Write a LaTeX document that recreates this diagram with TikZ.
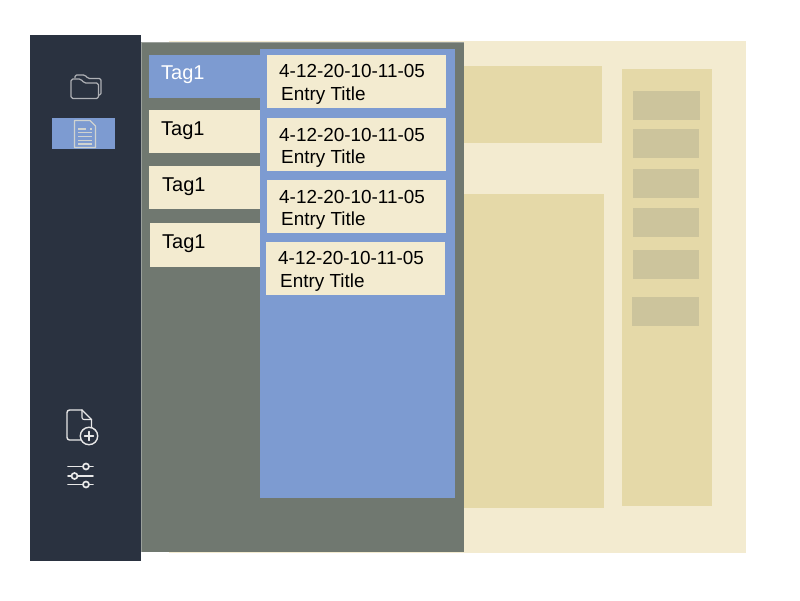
\documentclass[tikz,border=0pt]{standalone}
\usepackage{fontspec}
\setmainfont{Liberation Sans}
\definecolor{navy}{HTML}{2A3240}
\definecolor{bluep}{HTML}{7D9BD1}
\definecolor{cream}{HTML}{F3EBD0}
\definecolor{tan}{HTML}{E5D9A8}
\definecolor{greyb}{HTML}{CCC49C}
\definecolor{slate}{HTML}{707870}
\definecolor{iconw}{HTML}{E8E8E8}
\newcommand{\bx}[5]{\fill[#1] (#2,#3) rectangle (#4,#5);}
\tikzset{
  x=1pt,y=-1pt,
  tagtxt/.style={font=\fontsize{20}{22}\selectfont,anchor=base west,inner sep=0pt,text=black},
  datetxt/.style={font=\fontsize{18.9}{20}\selectfont,anchor=base west,inner sep=0pt,text=black},
  icon/.style={draw=iconw,line width=1.4pt,line join=round,line cap=round},
}
\begin{document}
\begin{tikzpicture}
\useasboundingbox (0,0) rectangle (800,600);
\fill[white] (0,0) rectangle (800,600);
% page background
\bx{cream}{169}{41}{746}{553}
\bx{tan}{460}{66}{602}{143}
\bx{tan}{460}{194}{604}{508}
\bx{tan}{622}{69}{712}{506}
\bx{greyb}{633}{91}{700}{120}
\bx{greyb}{633}{129}{699}{158}
\bx{greyb}{633}{169}{699}{198}
\bx{greyb}{633}{208}{699}{237}
\bx{greyb}{633}{250}{699}{279}
\bx{greyb}{632}{297}{699}{326}
% overlay panel
\bx{slate}{141}{42}{464}{552}
\draw[slate!70!white,line width=.5pt] (141.5,552)--(141.5,42.5)--(464,42.5);
% sidebar
\bx{navy}{30}{35}{141}{561}
\bx{bluep}{52}{118}{115}{149}
% tags
\bx{bluep}{149}{55}{262}{98}
\bx{cream}{149}{110}{262}{153}
\bx{cream}{149}{166}{262}{209}
\bx{cream}{150}{223}{262}{267}
\node[tagtxt,text=white] (t1) at (161,79) {Tag1};
\node[tagtxt] (t2) at (161,135) {Tag1};
\node[tagtxt] (t3) at (162,191) {Tag1};
\node[tagtxt] (t4) at (162,248) {Tag1};
% entries
\bx{bluep}{260}{49}{455}{498}
\bx{cream}{267}{55}{446}{108}
\bx{cream}{267}{118}{446}{171}
\bx{cream}{267}{180}{446}{233}
\bx{cream}{266}{242}{445}{295}
\node[datetxt] (d1) at (279,77) {4-12-20-10-11-05};
\node[datetxt] (e1) at (281,100) {Entry Title};
\node[datetxt] (d2) at (279,141) {4-12-20-10-11-05};
\node[datetxt] (e2) at (281,163) {Entry Title};
\node[datetxt] (d3) at (279,203) {4-12-20-10-11-05};
\node[datetxt] (e3) at (281,225) {Entry Title};
\node[datetxt] (d4) at (278,264) {4-12-20-10-11-05};
\node[datetxt] (e4) at (280,287) {Entry Title};
% folder icon
\draw[draw=iconw!70!navy,line width=1.2pt,line join=round,rounded corners=1.5pt]
  (75,78)--(75,75)--(85,75)--(88,78.5)--(101,78.5)--(101,95)--(98.5,95);
\draw[fill=navy,draw=iconw!70!navy,line width=1.2pt,line join=round,rounded corners=1.8pt]
  (71,79)--(71,98.5)--(98.5,98.5)--(98.5,83)--(84,83)--(81,79)--cycle;
% document icon
\draw[icon,draw=cream!70!bluep,line width=1.2pt] (74.5,120.5)--(90,120.5)--(95.5,126)--(95.5,147.5)--(74.5,147.5)--cycle;
\draw[draw=cream!70!bluep,line width=1.2pt] (78,129)--(86,129) (90,129)--(92,129);
\foreach \yy in {132.5,136.5,140.5,144}{
  \draw[draw=cream!70!bluep,line width=1.2pt] (78,\yy)--(92,\yy);
}
% new-file icon
\draw[icon,rounded corners=2.5pt] (82,440)--(67,440)--(67,410)--(82,410);
\draw[icon] (82,410)--(91.5,419.5)--(91.5,427);
\draw[icon,line width=1.1pt,rounded corners=2pt] (82,410)--(82,419.5)--(91.5,419.5);
\fill[navy] (89,436) circle[radius=8.7];
\draw[icon] (89,436) circle[radius=8.7];
\draw[icon] (84.5,436)--(93.5,436) (89,431.5)--(89,440.5);
% sliders icon
\draw[icon,line width=1.9pt] (68,466.5)--(93,466.5) (68,476)--(93,476) (68,484.5)--(93,484.5);
\filldraw[icon,line width=1.7pt,fill=navy] (86,466.5) circle[radius=3];
\filldraw[icon,line width=1.7pt,fill=navy] (74.5,476) circle[radius=3];
\filldraw[icon,line width=1.7pt,fill=navy] (86,484.5) circle[radius=3];
\end{tikzpicture}
\end{document}
